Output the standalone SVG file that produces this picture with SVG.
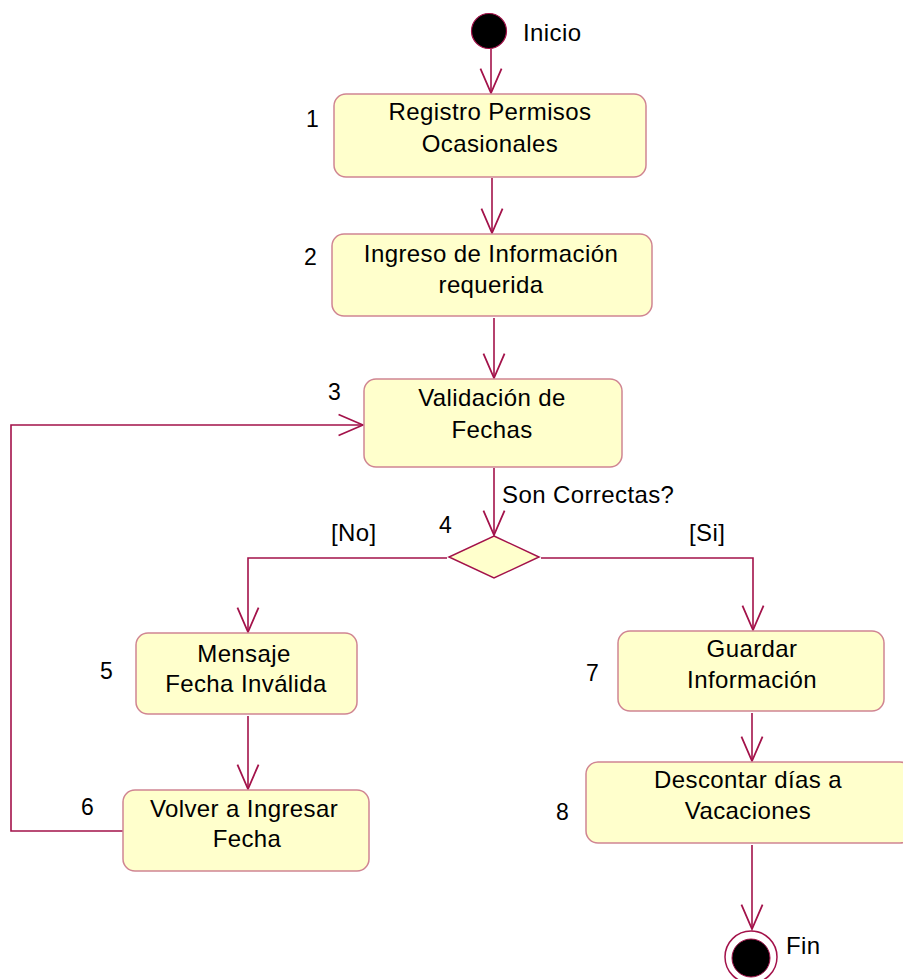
<svg xmlns="http://www.w3.org/2000/svg" width="903" height="979" viewBox="0 0 903 979">
  <defs>
    <style>
      .act { fill: #FFFFCC; stroke: #D08592; stroke-width: 1.5; }
      .dec { fill: #FFFFCC; stroke: #A3124A; stroke-width: 1.5; }
      .edge { fill: none; stroke: #A3124A; stroke-width: 1.6; }
      .lbl { font-family: "Liberation Sans", Arial, sans-serif; font-size: 24px; fill: #000; letter-spacing: 0.4px; }
      .mid { text-anchor: middle; }
      .num { font-family: "Liberation Sans", Arial, sans-serif; font-size: 23px; fill: #000; }
    </style>
    <marker id="open" markerUnits="userSpaceOnUse" markerWidth="30" markerHeight="30" viewBox="-25 -12 27 24" refX="0" refY="0" orient="auto">
      <path d="M-22,-9.5 L0,0 L-22,9.5" fill="none" stroke="#A3124A" stroke-width="1.6"/>
    </marker>
  </defs>
  <rect width="903" height="979" fill="#FFFFFF"/>

  <!-- connectors -->
  <g id="connectors">
    <path class="edge" d="M491,49 L491,93" marker-end="url(#open)"/>
    <path class="edge" d="M492,178 L492,233" marker-end="url(#open)"/>
    <path class="edge" d="M494,318 L494,378" marker-end="url(#open)"/>
    <path class="edge" d="M494,468 L494,535" marker-end="url(#open)"/>
    <path class="edge" d="M447,558 L248,558 L248,632" marker-end="url(#open)"/>
    <path class="edge" d="M541,558 L753,558 L753,630" marker-end="url(#open)"/>
    <path class="edge" d="M248,716 L248,789" marker-end="url(#open)"/>
    <path class="edge" d="M123,831 L11,831 L11,425 L363,425" marker-end="url(#open)"/>
    <path class="edge" d="M752,713 L752,761" marker-end="url(#open)"/>
    <path class="edge" d="M752,845 L752,929" marker-end="url(#open)"/>
    <text class="lbl" x="502" y="503">Son Correctas?</text>
    <text class="lbl" x="331" y="541">[No]</text>
    <text class="lbl" x="689" y="541">[Si]</text>
  </g>

  <!-- start -->
  <g id="inicio">
    <circle cx="489" cy="31" r="17.5" fill="#000" stroke="#A3124A" stroke-width="1.2"/>
    <text class="lbl" x="523" y="41">Inicio</text>
  </g>

  <g id="n1">
    <rect class="act" x="334" y="94" width="312" height="83" rx="12"/>
    <text class="lbl mid" x="490" y="120">Registro Permisos</text>
    <text class="lbl mid" x="490" y="152">Ocasionales</text>
    <text class="num" x="306" y="127">1</text>
  </g>

  <g id="n2">
    <rect class="act" x="332" y="234" width="320" height="82" rx="12"/>
    <text class="lbl mid" x="491" y="262">Ingreso de Información</text>
    <text class="lbl mid" x="491" y="293">requerida</text>
    <text class="num" x="304" y="265">2</text>
  </g>

  <g id="n3">
    <rect class="act" x="364" y="379" width="258" height="88" rx="12"/>
    <text class="lbl mid" x="492" y="406">Validación de</text>
    <text class="lbl mid" x="492" y="438">Fechas</text>
    <text class="num" x="328" y="400">3</text>
  </g>

  <g id="n4">
    <polygon class="dec" points="494,536 539,557 494,578 449,557"/>
    <text class="num" x="439" y="533">4</text>
  </g>

  <g id="n5">
    <rect class="act" x="136" y="633" width="221" height="81" rx="12"/>
    <text class="lbl mid" x="244" y="662">Mensaje</text>
    <text class="lbl mid" x="246" y="692">Fecha Inválida</text>
    <text class="num" x="100" y="679">5</text>
  </g>

  <g id="n6">
    <rect class="act" x="123" y="790" width="246" height="81" rx="12"/>
    <text class="lbl mid" x="244" y="817">Volver a Ingresar</text>
    <text class="lbl mid" x="247" y="847">Fecha</text>
    <text class="num" x="81" y="815">6</text>
  </g>

  <g id="n7">
    <rect class="act" x="618" y="631" width="266" height="80" rx="12"/>
    <text class="lbl mid" x="752" y="657">Guardar</text>
    <text class="lbl mid" x="752" y="688">Información</text>
    <text class="num" x="586" y="681">7</text>
  </g>

  <g id="n8">
    <rect class="act" x="586" y="762" width="326" height="81" rx="12"/>
    <text class="lbl mid" x="748" y="788">Descontar días a</text>
    <text class="lbl mid" x="748" y="819">Vacaciones</text>
    <text class="num" x="556" y="820">8</text>
  </g>

  <!-- end -->
  <g id="fin">
    <circle cx="751" cy="957" r="26" fill="#FFFFFF" stroke="#A3124A" stroke-width="1.5"/>
    <circle cx="751" cy="958" r="19" fill="#000" stroke="#A3124A" stroke-width="1"/>
    <text class="lbl" x="786" y="954">Fin</text>
  </g>
</svg>
